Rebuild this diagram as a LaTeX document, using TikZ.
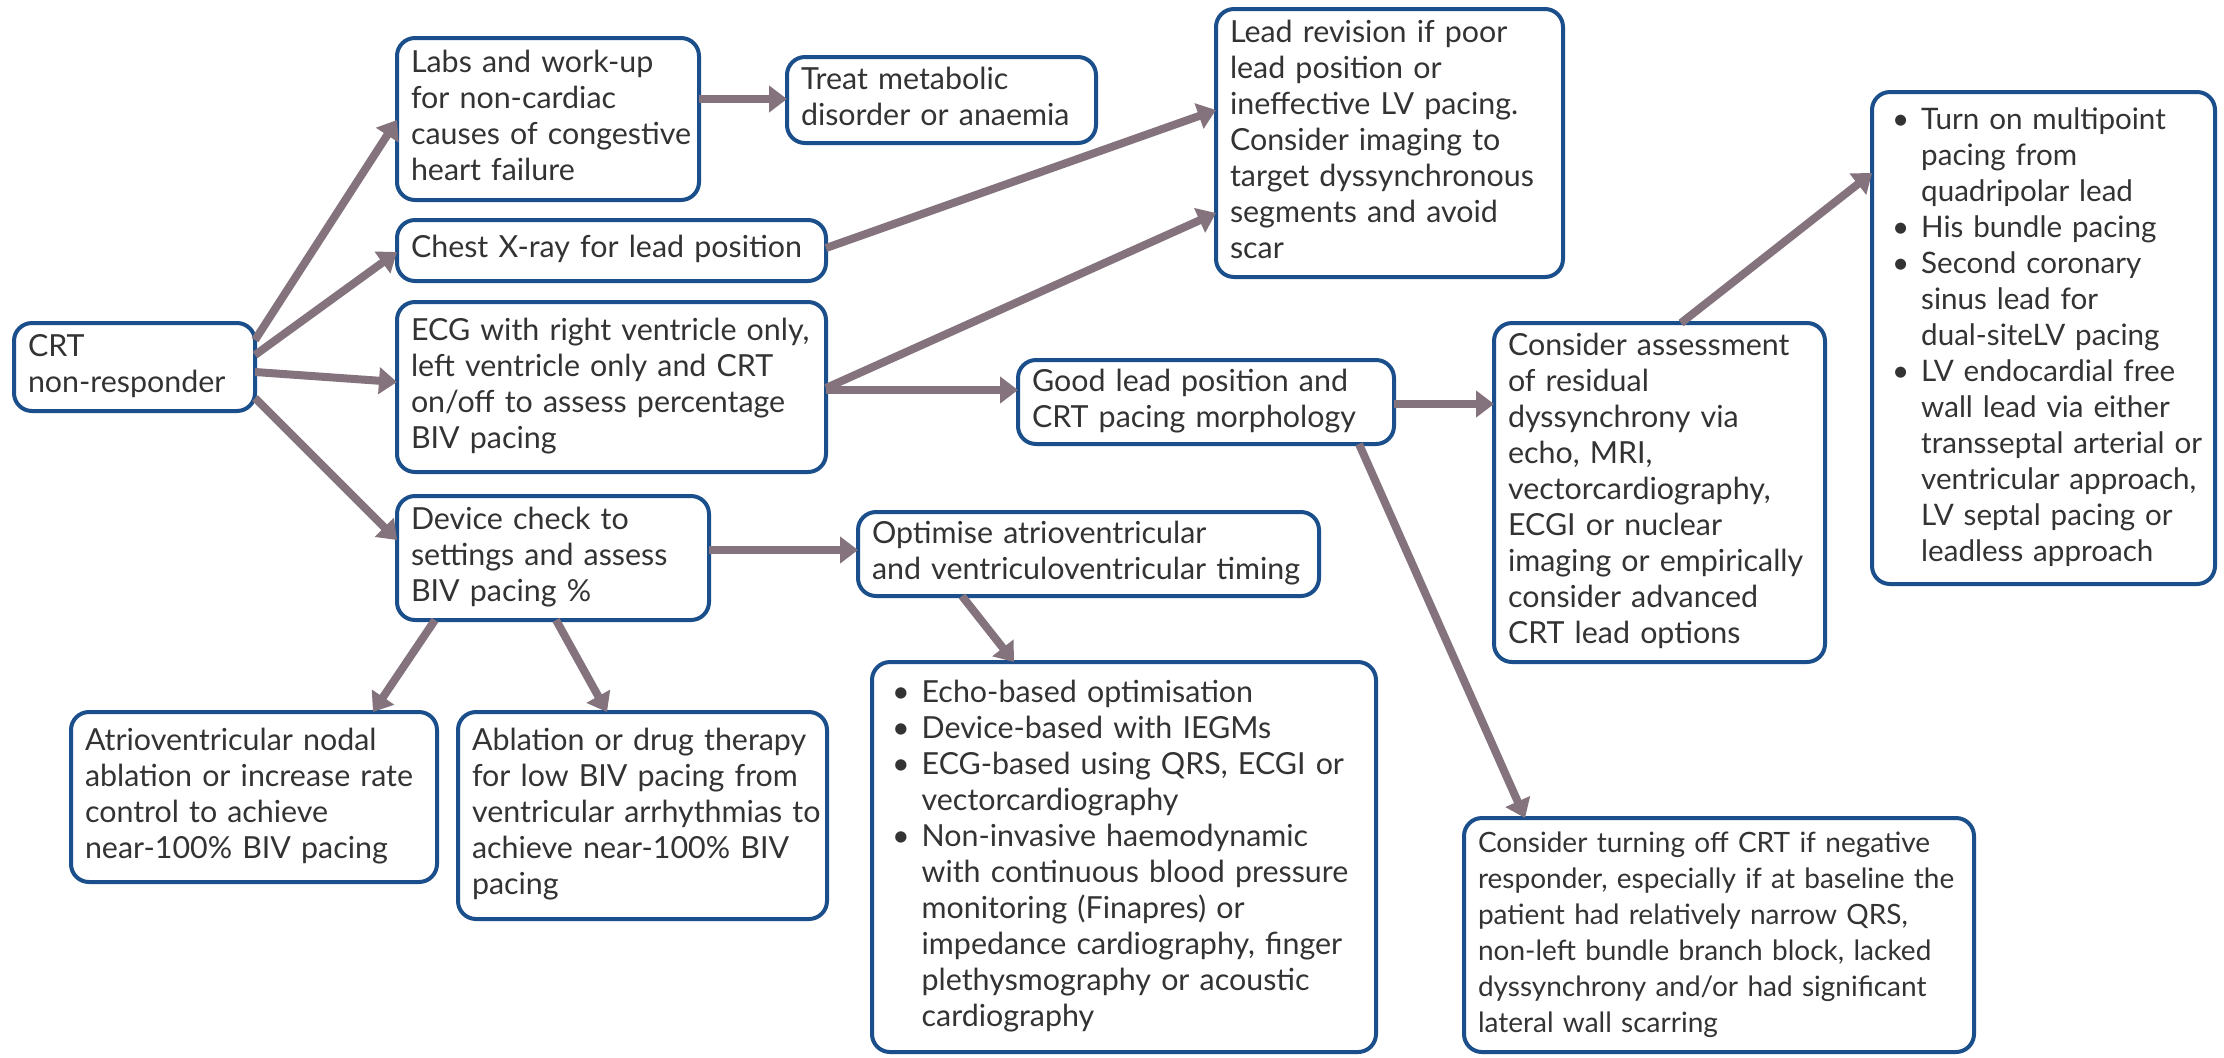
\documentclass[tikz,border=0pt]{standalone}
\usepackage{fontspec}
\setmainfont{Lato}
\usetikzlibrary{arrows.meta,calc}
\definecolor{boxblue}{HTML}{1B4F8C}
\definecolor{arrowc}{HTML}{84737D}
\definecolor{txt}{HTML}{333333}
\newcommand\tl[1]{\begin{tabular}{@{}l@{}}#1\end{tabular}}
\newcommand\bl[1]{\begin{tabular}{@{\hspace{3pt}}l@{\hspace{6pt}}l@{}}#1\end{tabular}}
\newcommand\bu{\textbullet}
\begin{document}
\begin{tikzpicture}[x=0.5pt,y=-0.5pt,
 box/.style={draw=boxblue, line width=2pt, rounded corners=9pt, fill=white, text=txt,
   align=left, anchor=north west, outer sep=0pt, inner xsep=7pt, inner ysep=2pt,
   font=\fontsize{15.2}{18}\selectfont},
 arr/.style={draw=arrowc, line width=4pt, -{Triangle[length=9pt,width=13pt]}}]
\useasboundingbox (0,0) rectangle (2224,1057);
\fill[white] (0,0) rectangle (2224,1057);

\node[box, minimum width=120.5pt, minimum height=44pt, text width=106.5pt] (crt) at (14,323) {\tl{CRT\\non-responder}};
\node[box, minimum width=151pt, minimum height=81pt, text width=137pt] (labs) at (397,38) {\tl{Labs and work-up\\for non-cardiac\\causes of congestive\\heart failure}};
\node[box, minimum width=154.5pt, minimum height=43pt, text width=140.5pt] (treat) at (787,57) {\tl{Treat metabolic\\disorder or anaemia}};
\node[box, minimum width=214.5pt, minimum height=30.5pt, text width=200.5pt] (chest) at (397,220) {\tl{Chest X-ray for lead position}};
\node[box, minimum width=173.5pt, minimum height=134pt, text width=159.5pt] (lead) at (1216,9) {\tl{Lead revision if poor\\lead position or\\ineffective LV pacing.\\Consider imaging to\\target dyssynchronous\\segments and avoid\\scar}};
\node[box, minimum width=214.5pt, minimum height=85pt, text width=200.5pt] (ecg) at (397,302) {\tl{ECG with right ventricle only,\\left ventricle only and CRT\\on/off to assess percentage\\BIV pacing}};
\node[box, minimum width=188pt, minimum height=42pt, text width=174pt] (good) at (1018,360) {\tl{Good lead position and\\CRT pacing morphology}};
\node[box, minimum width=165.5pt, minimum height=169.5pt, text width=151.5pt] (assess) at (1494,323) {\tl{Consider assessment\\of residual\\dyssynchrony via\\echo, MRI,\\vectorcardiography,\\ECGI or nuclear\\imaging or empirically\\consider advanced\\CRT lead options}};
\node[box, minimum width=171.5pt, minimum height=246pt, text width=157.5pt, font=\fontsize{14.8}{18}\selectfont] (turnon) at (1872,92) {\bl{\bu & Turn on multipoint\\ & pacing from\\ & quadripolar lead\\ \bu & His bundle pacing\\ \bu & Second coronary\\ & sinus lead for\\ & dual-siteLV pacing\\ \bu & LV endocardial free\\ & wall lead via either\\ & transseptal arterial or\\ & ventricular approach,\\ & LV septal pacing or\\ & leadless approach}};
\node[box, minimum width=156pt, minimum height=62pt, text width=142pt] (device) at (397,496) {\tl{Device check to\\settings and assess\\BIV pacing \%}};
\node[box, minimum width=230.5pt, minimum height=42pt, text width=216.5pt] (optim) at (858,512) {\tl{Optimise atrioventricular\\and ventriculoventricular timing}};
\node[box, minimum width=252pt, minimum height=195pt, text width=238pt] (echo) at (872,662) {\bl{\bu & Echo-based optimisation\\ \bu & Device-based with IEGMs\\ \bu & ECG-based using QRS, ECGI or\\ & vectorcardiography\\ \bu & Non-invasive haemodynamic\\ & with continuous blood pressure\\ & monitoring (Finapres) or\\ & impedance cardiography, finger\\ & plethysmography or acoustic\\ & cardiography}};
\node[box, minimum width=183pt, minimum height=85pt, text width=169pt] (avnodal) at (71,712) {\tl{Atrioventricular nodal\\ablation or increase rate\\control to achieve\\near-100\% BIV pacing}};
\node[box, minimum width=184.5pt, minimum height=103.5pt, text width=170.5pt] (ablation) at (458,712) {\tl{Ablation or drug therapy\\for low BIV pacing from\\ventricular arrhythmias to\\achieve near-100\% BIV\\pacing}};
\node[box, minimum width=255pt, minimum height=117pt, text width=241pt, font=\fontsize{14.0}{18}\selectfont] (turnoff) at (1464,818) {\tl{Consider turning off CRT if negative\\responder, especially if at baseline the\\patient had relatively narrow QRS,\\non-left bundle branch block, lacked\\dyssynchrony and/or had significant\\lateral wall scarring}};

\draw[arr] (crt.east |- 0,340) -- (labs.west |- 0,120);
\draw[arr] (crt.east |- 0,355) -- (chest.west |- 0,252);
\draw[arr] (crt.east |- 0,372) -- (ecg.west |- 0,382);
\draw[arr] (crt.east |- 0,398) -- (device.west |- 0,540);
\draw[arr] (labs.east |- 0,99) -- (treat.west |- 0,99);
\draw[arr] (chest.east |- 0,248) -- (lead.west |- 0,110);
\draw[arr] (ecg.east |- 0,388) -- (lead.west |- 0,213);
\draw[arr] (ecg.east |- 0,390) -- (good.west |- 0,390);
\draw[arr] (good.east |- 0,404) -- (assess.west |- 0,404);
\draw[arr] (assess.north -| 1681,0) -- (turnon.west |- 0,173);
\draw[arr] (good.south -| 1359,0) -- (turnoff.north -| 1525,0);
\draw[arr] (device.east |- 0,550) -- (optim.west |- 0,550);
\draw[arr] (optim.south -| 962,0) -- (echo.north -| 1014,0);
\draw[arr] (device.south -| 435,0) -- (avnodal.north -| 373,0);
\draw[arr] (device.south -| 556,0) -- (ablation.north -| 607,0);
\end{tikzpicture}
\end{document}
